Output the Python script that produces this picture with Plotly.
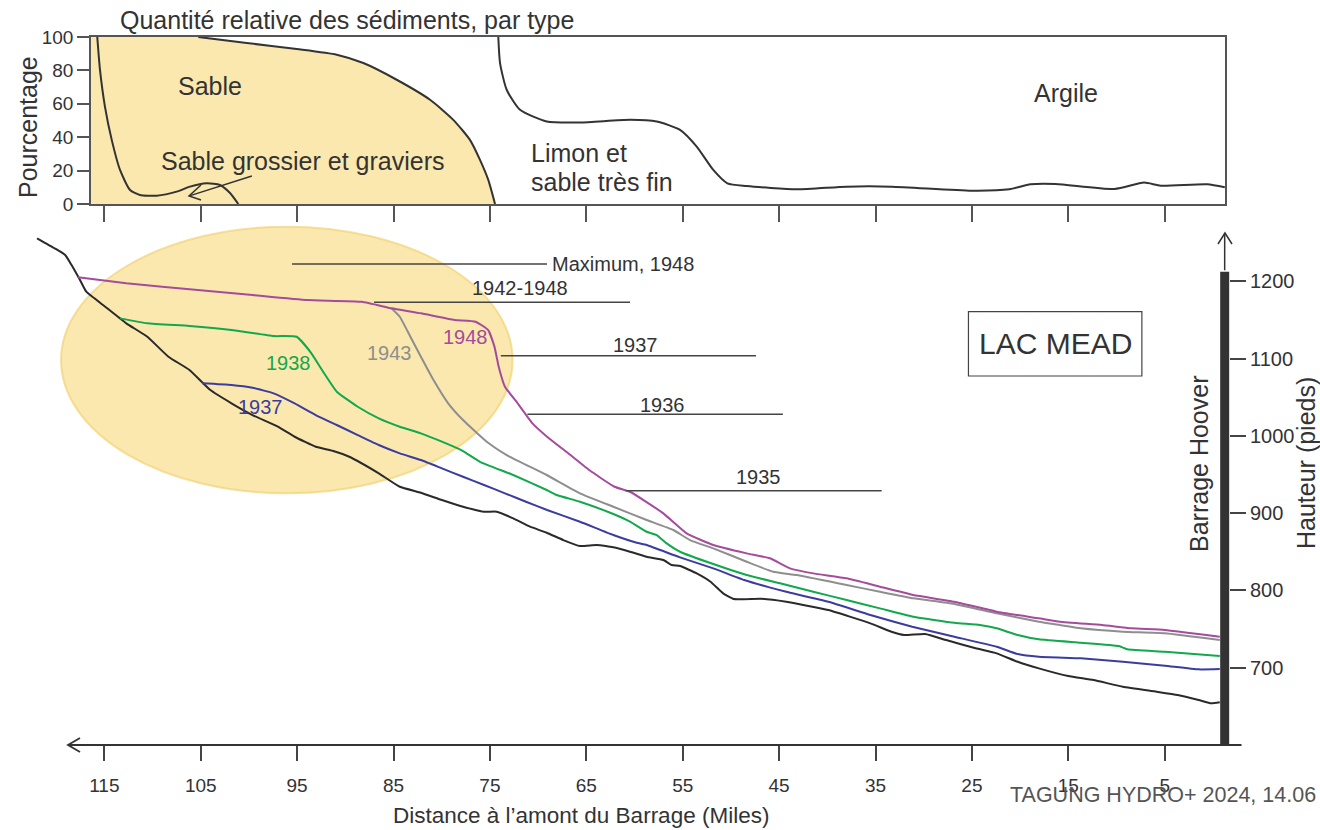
import plotly.graph_objects as go

W, H = 1320, 830
FONT = "Liberation Sans, Arial, sans-serif"
TXT = "#333333"

# ---------------- top panel: relative sediment quantity (%) ----------------
COARSE_MILES = [115.73, 115.45, 114.93, 114.23, 113.37, 112.33, 111.30, 109.56, 107.49, 106.11, 104.38, 103.0, 101.96, 101.1]
COARSE_PCT = [100, 80.4, 58.2, 38.4, 20.4, 8.4, 5.4, 5.0, 7.4, 10.4, 12.4, 11.4, 6.6, 0.0]

SAND_MILES = [116.38, 105.25, 100.23, 95.04, 90.89, 88.13, 84.67, 81.21, 78.80, 77.07, 76.03, 75.17, 74.47]
SAND_PCT = [100, 100, 96.4, 92.8, 89.4, 84.4, 74.4, 62.4, 50.4, 38.4, 26.4, 14.4, 0.0]

SILT_MILES = [74.13, 73.95, 73.26, 71.88, 69.11, 65.65, 60.46, 57.70, 55.28, 53.55, 51.83, 50.37, 48.36,
              43.18, 37.99, 33.34, 25.05, 21.12, 18.93, 16.32, 10.21, 7.15, 5.41, 0.60, -1.23]
SILT_PCT = [100, 84.4, 68.4, 56.4, 49.4, 48.8, 50.4, 49.4, 44.4, 34.4, 20.4, 12.4, 10.8,
            8.8, 10.4, 10.4, 8.0, 8.8, 11.8, 12.0, 9.0, 12.8, 11.0, 11.8, 10.0]

PCT_TICKS = [0, 20, 40, 60, 80, 100]
MILE_TICKS = [115, 105, 95, 85, 75, 65, 55, 45, 35, 25, 15, 5]
FT_TICKS = [700, 800, 900, 1000, 1100, 1200]

# ---------------- bottom panel: bed profiles (feet) ----------------
BED_MILES = [121.98, 120.15, 119.06, 118.40, 117.52, 116.87, 114.91, 112.72, 110.54, 108.35, 106.17, 104.00,
             101.81, 99.63, 97.00, 95.26, 93.07, 91.33, 89.59, 86.53, 84.35, 82.16, 79.98, 77.79, 75.61,
             74.30, 72.58, 70.84, 69.11, 67.39, 65.66, 63.92, 62.20, 60.47, 58.74, 57.01, 56.14, 55.28,
             53.55, 52.12, 50.81, 49.71, 46.88, 44.26, 39.89, 35.53, 33.35, 32.04, 29.85, 27.67, 24.61,
             22.43, 20.25, 18.06, 15.01, 12.39, 9.33, 5.84, 3.66, 1.48, 0.17, -0.71]
BED_FT = [1255.7, 1242.7, 1234.1, 1221.1, 1201.7, 1186.6, 1167.2, 1145.7, 1128.3, 1102.5, 1085.3, 1059.3,
          1042.2, 1027.0, 1011.9, 998.9, 986.0, 980.8, 973.0, 951.6, 934.2, 926.5, 917.0, 908.3, 901.9,
          901.9, 893.3, 882.5, 874.7, 865.2, 857.5, 858.8, 855.8, 850.1, 843.6, 839.4, 832.9, 831.6,
          822.1, 811.3, 796.2, 788.9, 789.3, 785.4, 774.6, 757.4, 746.5, 742.3, 743.6, 735.8, 725.1,
          718.6, 707.7, 699.2, 689.2, 684.0, 675.4, 668.9, 664.6, 658.2, 653.9, 655.2]

Y1937_MILES = [104.87, 101.81, 99.63, 97.44, 95.26, 93.07, 90.89, 88.71, 86.53, 84.35, 82.16, 79.98, 77.79,
               75.61, 73.44, 71.26, 69.07, 65.66, 62.20, 59.77, 58.74, 55.28, 51.83, 48.62, 46.01, 44.26,
               39.89, 35.53, 31.19, 26.82, 22.43, 20.25, 18.06, 13.70, 9.33, 4.98, 1.48, -0.71]
Y1937_FT = [1068.0, 1065.8, 1062.3, 1055.1, 1042.1, 1027.0, 1014.1, 1001.1, 988.2, 977.4, 968.8, 958.0, 947.1,
            936.4, 925.7, 914.8, 904.1, 888.9, 871.7, 861.7, 858.8, 842.8, 828.6, 813.5, 804.0, 798.3,
            785.4, 768.2, 753.0, 740.1, 727.2, 717.7, 714.2, 712.1, 707.7, 702.6, 697.9, 698.3]

Y1938_MILES = [113.37, 110.54, 106.17, 101.81, 97.44, 95.04, 93.52, 92.20, 90.89, 88.71, 86.53, 84.35, 82.16,
               79.98, 77.79, 76.03, 72.58, 69.11, 68.07, 65.66, 62.20, 60.47, 58.74, 57.70, 56.66, 55.28,
               51.83, 48.36, 44.91, 41.46, 38.00, 34.54, 31.08, 26.82, 24.18, 22.43, 20.25, 18.06, 13.70,
               9.76, 8.89, 4.98, -0.71]
Y1938_FT = [1152.1, 1145.7, 1142.2, 1137.0, 1129.2, 1128.3, 1106.9, 1081.0, 1057.2, 1037.7, 1022.7, 1011.9, 1003.3,
            992.5, 980.4, 966.5, 949.4, 930.0, 923.5, 914.8, 898.9, 889.0, 876.0, 871.7, 860.9, 850.1,
            834.2, 820.0, 809.2, 798.3, 787.6, 776.8, 766.0, 758.2, 755.2, 751.0, 742.3, 736.7, 732.3,
            728.0, 723.8, 720.7, 715.1]

Y1943_MILES = [85.22, 84.35, 83.25, 82.16, 80.85, 79.33, 77.79, 75.33, 73.26, 69.11, 65.66, 62.20, 58.74,
               55.98, 54.25, 51.83, 48.36, 45.61, 43.18, 38.00, 34.54, 31.08, 26.82, 22.43, 18.06, 15.88,
               13.70, 9.33, 4.98, -0.71]
Y1943_FT = [1165.1, 1154.2, 1128.4, 1102.5, 1072.3, 1042.2, 1020.5, 992.4, 975.2, 949.4, 925.7, 908.3, 891.1,
            878.2, 865.2, 854.5, 837.1, 824.2, 819.9, 807.0, 798.3, 789.8, 782.5, 770.4, 759.5, 755.2,
            751.0, 746.6, 744.5, 735.8]

Y1948_MILES = [117.74, 112.72, 105.30, 99.63, 93.95, 88.28, 85.22, 82.16, 78.67, 76.49, 75.18, 74.53, 74.09,
               73.44, 72.12, 70.59, 69.07, 66.88, 64.70, 62.08, 60.47, 57.01, 54.59, 51.83, 48.36, 45.95,
               43.87, 41.46, 38.00, 34.54, 31.08, 26.82, 22.43, 18.06, 15.88, 11.52, 8.46, 4.98, -0.71]
Y1948_FT = [1205.2, 1197.5, 1188.8, 1182.3, 1175.8, 1173.6, 1165.1, 1158.6, 1150.0, 1147.8, 1137.0, 1115.5, 1089.5,
            1063.6, 1042.2, 1016.3, 999.0, 977.5, 955.8, 934.2, 927.7, 899.8, 873.9, 858.8, 848.0, 841.6,
            828.6, 822.1, 815.7, 804.8, 794.1, 785.4, 772.5, 763.9, 759.5, 755.2, 751.0, 748.8, 740.1]

# water level marks: label, level (ft), start mile, end mile
LEVEL_LABELS = ["Maximum, 1948", "1942-1948", "1937", "1936", "1935"]
LEVEL_FT = [1222.4, 1172.9, 1103.8, 1027.9, 929.0]
LEVEL_START = [95.53, 87.02, 73.87, 71.11, 60.91]
LEVEL_END = [69.08, 60.47, 47.40, 44.61, 34.36]

DAM_MILE = -1.22
DAM_BOTTOM_FT, DAM_TOP_FT, DAM_ARROW_FT = 600, 1212.5, 1262

COLORS = {"bed": "#2a2a2a", "1937": "#3b3d9e", "1938": "#12a84c", "1943": "#8e8e8e", "1948": "#a54b9c"}


def px(x):
    return x / W


def py(y):
    return 1 - y / H


fig = go.Figure()

# top panel
fig.add_trace(go.Scatter(x=SAND_MILES, y=SAND_PCT, mode="lines", fill="tozeroy",
                         fillcolor="#fae8af", line=dict(width=0, shape="spline", smoothing=0.6),
                         xaxis="x", yaxis="y", hoverinfo="skip"))
fig.add_trace(go.Scatter(x=SAND_MILES[1:], y=SAND_PCT[1:], mode="lines",
                         line=dict(color="#333333", width=2, shape="spline", smoothing=0.6),
                         xaxis="x", yaxis="y"))
fig.add_trace(go.Scatter(x=COARSE_MILES, y=COARSE_PCT, mode="lines",
                         line=dict(color="#333333", width=2, shape="spline", smoothing=0.6),
                         xaxis="x", yaxis="y"))
fig.add_trace(go.Scatter(x=SILT_MILES, y=SILT_PCT, mode="lines",
                         line=dict(color="#333333", width=2, shape="spline", smoothing=0.6),
                         xaxis="x", yaxis="y"))

# bottom panel profiles
for xs, ys, key in [(BED_MILES, BED_FT, "bed"), (Y1937_MILES, Y1937_FT, "1937"),
                    (Y1938_MILES, Y1938_FT, "1938"), (Y1943_MILES, Y1943_FT, "1943"),
                    (Y1948_MILES, Y1948_FT, "1948")]:
    fig.add_trace(go.Scatter(x=xs, y=ys, mode="lines",
                             line=dict(color=COLORS[key], width=2, shape="spline", smoothing=0.4),
                             xaxis="x2", yaxis="y2"))

# water level leader lines
for lv, x0, x1 in zip(LEVEL_FT, LEVEL_START, LEVEL_END):
    fig.add_trace(go.Scatter(x=[x0, x1], y=[lv, lv], mode="lines",
                             line=dict(color="#444444", width=1.5), xaxis="x2", yaxis="y2"))

# dam
fig.add_trace(go.Scatter(x=[DAM_MILE, DAM_MILE], y=[DAM_BOTTOM_FT, DAM_TOP_FT], mode="lines",
                         line=dict(color="#333333", width=9), xaxis="x2", yaxis="y2"))

ARROW_LINE = dict(color="#333333", width=1.8)
shapes = [
    dict(type="circle", xref="x2", yref="y2", x0=119.49, x1=72.65, y0=925.7, y1=1270.7,
         fillcolor="rgba(247,214,110,0.55)", line=dict(color="rgba(240,205,100,0.6)", width=2),
         layer="below"),
    dict(type="rect", xref="x2", yref="y2", x0=25.36, x1=7.37, y0=1077.5, y1=1160.7,
         line=dict(color="#444444", width=1.2), fillcolor="rgba(0,0,0,0)"),
    # open arrowheads (decoration)
    dict(type="path", xref="paper", yref="paper",
         path=f"M {px(80)},{py(738)} L {px(68)},{py(745)} L {px(80)},{py(752)}", line=ARROW_LINE),
    dict(type="path", xref="paper", yref="paper",
         path=f"M {px(1218)},{py(244)} L {px(1225)},{py(233)} L {px(1232)},{py(244)}",
         line=dict(color="#333333", width=1.5)),
    dict(type="path", xref="paper", yref="paper",
         path=f"M {px(201)},{py(185)} L {px(189)},{py(196)} L {px(201)},{py(200)}",
         line=dict(color="#333333", width=1.5)),
]

ann = []


def text(x, y, s, size=25, color=TXT, xref="x", yref="y", xanchor="center", yanchor="middle", angle=0):
    ann.append(dict(x=x, y=y, text=s, xref=xref, yref=yref, showarrow=False, xanchor=xanchor,
                    yanchor=yanchor, textangle=angle, font=dict(family=FONT, size=size, color=color)))


text(px(118), py(20), "Quantité relative des sédiments, par type", xref="paper", yref="paper", xanchor="left")
text(px(28), py(127), "Pourcentage", xref="paper", yref="paper", angle=-90)
text(104.04, 70.8, "Sable")
text(94.49, 25.8, "Sable grossier et graviers")
text(70.92, 30.4, "Limon et", xanchor="left")
text(70.92, 13.4, "sable très fin", xanchor="left")
text(15.24, 66.6, "Argile")

# arrow to coarse sand curve
ann.append(dict(x=106.09, y=5.0, ax=99.54, ay=17.0, xref="x", yref="y", axref="x", ayref="y",
                showarrow=True, arrowhead=0, arrowwidth=1.5, arrowcolor="#333333", text=""))

# level labels
text(68.77, LEVEL_FT[0], LEVEL_LABELS[0], size=20, xref="x2", yref="y2", xanchor="left")
text(71.88, 1191.4, LEVEL_LABELS[1], size=20, xref="x2", yref="y2")
text(59.90, 1117.6, LEVEL_LABELS[2], size=20, xref="x2", yref="y2")
text(57.05, 1039.9, LEVEL_LABELS[3], size=20, xref="x2", yref="y2")
text(47.16, 946.4, LEVEL_LABELS[4], size=20, xref="x2", yref="y2")

# colored curve labels
text(95.91, 1093.9, "1938", size=20, color=COLORS["1938"], xref="x2", yref="y2")
text(85.44, 1106.9, "1943", size=20, color=COLORS["1943"], xref="x2", yref="y2")
text(77.58, 1127.6, "1948", size=20, color=COLORS["1948"], xref="x2", yref="y2")
text(98.75, 1037.8, "1937", size=20, color=COLORS["1937"], xref="x2", yref="y2")

text(16.36, 1119.0, "LAC MEAD", size=30, xref="x2", yref="y2")

text(px(1199), py(464), "Barrage Hoover", xref="paper", yref="paper", angle=-90)
text(px(1306), py(463), "Hauteur (pieds)", xref="paper", yref="paper", angle=-90)
text(px(581), py(815), "Distance à l’amont du Barrage (Miles)", size=22.5, xref="paper", yref="paper")
text(px(1318), py(795), "TAGUNG HYDRO+ 2024, 14.06", size=21.5, color="#555555",
     xref="paper", yref="paper", xanchor="right")

# bottom axis line (arrow pointing upstream / left)
ann.append(dict(x=118.77, y=600, ax=-3.12, ay=600, xref="x2", yref="y2", axref="x2", ayref="y2",
                showarrow=True, arrowhead=0, arrowwidth=2, arrowcolor="#333333", text=""))
# dam height arrow shaft
ann.append(dict(x=DAM_MILE, y=DAM_ARROW_FT, ax=DAM_MILE, ay=DAM_TOP_FT, xref="x2", yref="y2",
                axref="x2", ayref="y2", showarrow=True, arrowhead=0, arrowwidth=1.5,
                arrowcolor="#333333", text=""))

tickfont = dict(family=FONT, size=19, color=TXT)

fig.update_layout(
    template="none",
    width=W, height=H, autosize=False, margin=dict(l=0, r=0, t=0, b=0, pad=0),
    paper_bgcolor="white", plot_bgcolor="rgba(0,0,0,0)", showlegend=False,
    shapes=shapes, annotations=ann,
    xaxis=dict(domain=[px(91), px(1225)], range=[116.38, -1.25], anchor="y", automargin=False,
               showline=True, mirror=True, linecolor="#555555", linewidth=1.5,
               ticks="outside", tickvals=MILE_TICKS, ticklen=16, tickwidth=1.5, tickcolor="#555555",
               showticklabels=False, showgrid=False, zeroline=False),
    yaxis=dict(domain=[py(204), py(37)], range=[0, 100], anchor="x", automargin=False,
               showline=True, mirror=True, linecolor="#555555", linewidth=1.5,
               ticks="outside", tickvals=PCT_TICKS, ticklen=12, tickwidth=1.5, tickcolor="#555555",
               tickfont=tickfont, showgrid=False, zeroline=False),
    xaxis2=dict(domain=[px(30), px(1243)], range=[122.71, -3.12], anchor="y2", automargin=False,
                showline=False, ticks="outside", tickvals=MILE_TICKS, ticklen=15, tickwidth=1.5,
                tickcolor="#444444", tickfont=tickfont, ticklabelstandoff=8,
                showgrid=False, zeroline=False),
    yaxis2=dict(domain=[py(745), py(222)], range=[600, 1276.8], anchor="free", position=px(1229),
                side="right", automargin=False, showline=False, ticks="outside", tickvals=FT_TICKS,
                ticklen=16, tickwidth=1.5, tickcolor="#444444",
                tickfont=dict(family=FONT, size=20, color=TXT),
                showgrid=False, zeroline=False),
)

fig.write_html("out.html")
